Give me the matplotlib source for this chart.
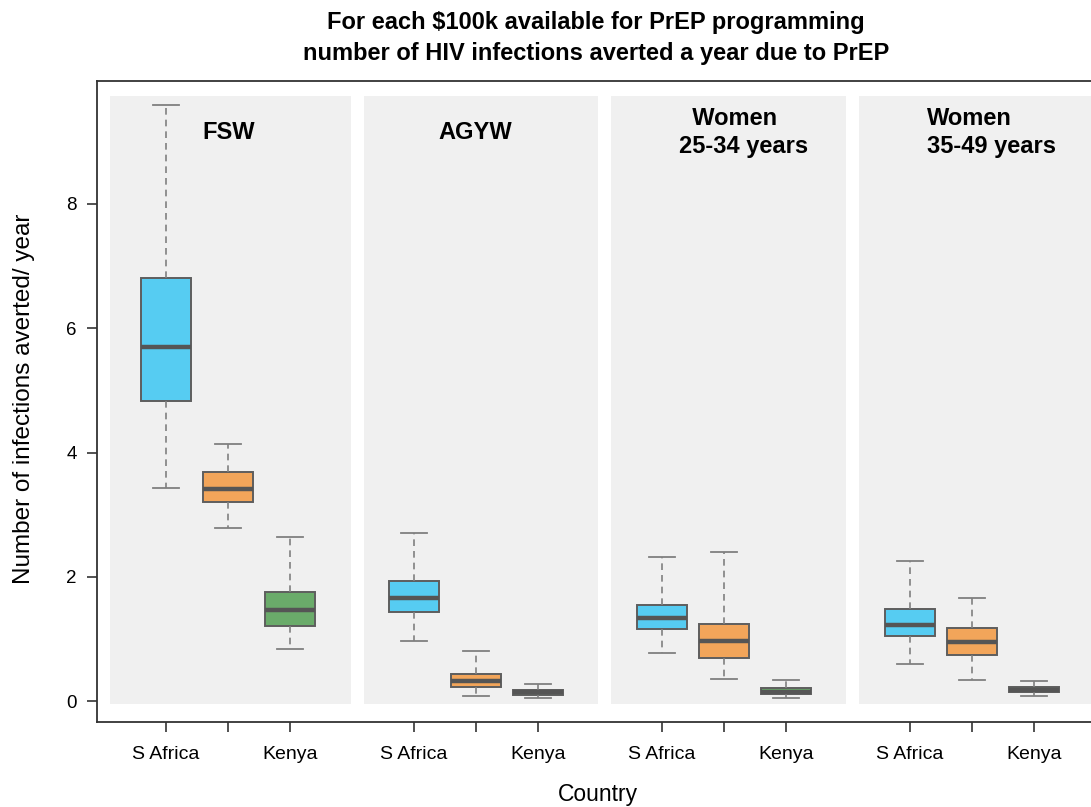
import matplotlib
matplotlib.use("Agg")
import matplotlib.pyplot as plt
from matplotlib.patches import Rectangle

plt.rcParams['font.family'] = ['Liberation Sans', 'DejaVu Sans']

# ---- data ----
groups = ["FSW", "AGYW", "  Women\n25-34 years", "Women\n35-49 years"]
countries = ["S Africa", "", "Kenya"]
positions = [1, 2, 3, 5, 6, 7, 9, 10, 11, 13, 14, 15]
whislo = [3.43, 2.78, 0.84, 0.97, 0.08, 0.05, 0.78, 0.35, 0.05, 0.60, 0.34, 0.08]
q1 =     [4.83, 3.20, 1.21, 1.43, 0.23, 0.10, 1.16, 0.69, 0.11, 1.05, 0.74, 0.145]
med =    [5.70, 3.41, 1.46, 1.66, 0.32, 0.145, 1.34, 0.97, 0.145, 1.22, 0.95, 0.18]
q3 =     [6.81, 3.69, 1.75, 1.93, 0.43, 0.18, 1.55, 1.24, 0.21, 1.48, 1.18, 0.23]
whishi = [9.59, 4.14, 2.64, 2.70, 0.80, 0.27, 2.32, 2.40, 0.34, 2.25, 1.66, 0.32]
box_colors = ["#56CCF2", "#F2A55A", "#6AAB6A"] * 4
yticks = [0, 2, 4, 6, 8]

W, H = 1091, 807
fig = plt.figure(figsize=(W / 100, H / 100), dpi=100)
L, R, T, B = 97, 1096, 81, 722
ax = fig.add_axes([L / W, 1 - B / H, (R - L) / W, (B - T) / H])

# grey panels
panel_x = [(0.097, 3.98), (4.19, 7.97), (8.18, 11.97), (12.18, 16.5)]
for x0, x1 in panel_x:
    ax.add_patch(Rectangle((x0, -0.05), x1 - x0, 9.79, facecolor="#f0f0f0",
                           edgecolor="none", zorder=0))

stats = []
for i in range(len(positions)):
    stats.append(dict(whislo=whislo[i], q1=q1[i], med=med[i], q3=q3[i],
                      whishi=whishi[i], fliers=[]))

bp = ax.bxp(stats, positions=positions, widths=0.82, capwidths=0.43,
            patch_artist=True, showfliers=False,
            boxprops=dict(edgecolor="#5e5e5e", linewidth=1.4),
            medianprops=dict(color="#555555", linewidth=3.2, solid_capstyle="butt"),
            whiskerprops=dict(color="#808080", linewidth=1.2, linestyle=(0, (4, 3))),
            capprops=dict(color="#808080", linewidth=1.3))
for patch, c in zip(bp["boxes"], box_colors):
    patch.set_facecolor(c)
    patch.set_zorder(2)

# group labels
label_x = [1.58, 5.40, 9.27, 13.27]
for gx, g in zip(label_x, groups):
    ax.text(gx, 9.15, g, ha="left", va="center", fontsize=17, fontweight="bold",
            linespacing=1.25)

ax.set_xlim(-0.113, 1 + (R - 166) / 62)
ax.set_ylim((701 - B) / 62.125, (701 - T) / 62.125)

ax.set_xticks(positions)
ax.set_xticklabels(countries * 4, fontsize=14)
ax.set_yticks(yticks)
ax.set_yticklabels([str(v) for v in yticks], fontsize=13.5)
ax.tick_params(axis="x", length=7.5, width=1.2, pad=10, colors="#333333", labelcolor="black")
ax.tick_params(axis="y", length=7.5, width=1.2, pad=7, colors="#333333", labelcolor="black")
for s in ax.spines.values():
    s.set_linewidth(1.3)
    s.set_color("#333333")

fig.text(24 / W, 1 - 399 / H, "Number of infections averted/ year", rotation=90,
         ha="center", va="center", fontsize=17.5)
fig.text(598 / W, 1 - 795 / H, "Country", ha="center", va="center", fontsize=16.5)
fig.text(596 / W, 1 - 38 / H,
         "For each $100k available for PrEP programming\nnumber of HIV infections averted a year due to PrEP",
         ha="center", va="center", fontsize=17, fontweight="bold", linespacing=1.42)

fig.savefig("out.png", dpi=100)
